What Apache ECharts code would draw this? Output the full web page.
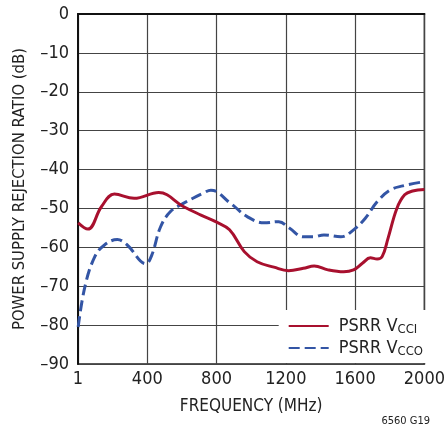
<!DOCTYPE html>
<html><head><meta charset="utf-8">
<script src="https://cdn.jsdelivr.net/npm/echarts@6/dist/echarts.min.js"></script>
<style>html,body{margin:0;padding:0;background:#fff}#c{width:448px;height:432px}</style>
</head><body><div id="c"></div>
<script>
const freqVcci = [1,57,136,210,324,466,608,710,795,875,960,1034,1131,1216,1301,1364,1443,1534,1591,1642,1688,1727,1756,1790,1841,1886,1932,2000];
const psrrVcci = [-53.7,-55.3,-49.5,-46.3,-47.4,-45.9,-49.5,-51.7,-53.4,-55.5,-61.1,-63.7,-65.1,-66,-65.4,-64.8,-65.8,-66.3,-65.8,-64.1,-62.7,-63,-62.4,-57.7,-50,-46.5,-45.5,-45.1];
const freqVcco = [1,40,97,153,227,284,392,426,477,534,608,722,767,881,977,1074,1159,1222,1301,1358,1420,1517,1591,1659,1727,1801,1875,2000];
const psrrVcco = [-80.5,-70.1,-62.4,-59.4,-58,-59.4,-64.2,-62,-54.7,-50.8,-48.7,-46.1,-45.3,-48.7,-52.1,-53.7,-53.4,-55.1,-57.3,-57.3,-56.8,-57.3,-55.5,-52.5,-48.3,-45.3,-44.2,-43.1];
const xTicks = ['1','400','800','1200','1600','2000'];
const seriesNames = ['PSRR VCCI','PSRR VCCO'];
const subs = {'PSRR VCCI':'CCI','PSRR VCCO':'CCO'};

const FONT = '"Liberation Sans Narrow","DejaVu Sans Condensed",sans-serif';
const chart = echarts.init(document.getElementById('c'));
const zip = (a,b)=>a.map((v,i)=>[v,b[i]]);
chart.setOption({
  animation:false,
  grid:{left:78,right:18,top:14,bottom:68,show:true,borderColor:'#222',borderWidth:1.5},
  xAxis:{type:'value',min:0,max:2000,interval:400,
    axisLine:{lineStyle:{color:'#111',width:2}},axisTick:{show:false},
    axisLabel:{margin:6,color:'#222',fontSize:18,fontFamily:FONT,
      formatter:v=>xTicks[Math.round(v/400)]},
    splitLine:{show:true,lineStyle:{color:'#444',width:1.2}},
    name:'FREQUENCY (MHz)',nameLocation:'middle',nameGap:34,
    nameTextStyle:{fontSize:17,color:'#222',fontFamily:FONT}},
  yAxis:{type:'value',min:-90,max:0,interval:10,
    axisLine:{show:true,lineStyle:{color:'#111',width:2}},axisTick:{show:false},
    axisLabel:{margin:9,color:'#222',fontSize:18,fontFamily:FONT,
      formatter:v=>String(v).replace('-','\u2013')},
    splitLine:{show:true,lineStyle:{color:'#444',width:1.2}},
    name:'POWER SUPPLY REJECTION RATIO (dB)',nameLocation:'middle',nameGap:50,
    nameTextStyle:{fontSize:16.5,color:'#222',fontFamily:FONT}},
  legend:{orient:'vertical',right:19,bottom:69,backgroundColor:'#fff',
    padding:[7,6,5,9],itemGap:3,itemWidth:40,itemHeight:18,
    itemStyle:{color:'rgba(0,0,0,0)',borderColor:'rgba(0,0,0,0)',borderWidth:0,opacity:0},
    data:seriesNames,
    formatter:n=>'{a|PSRR V}{s|'+subs[n]+'}',
    textStyle:{color:'#222',fontFamily:FONT,padding:[0,0,0,5],
      rich:{a:{fontSize:18,fontFamily:FONT,color:'#222',lineHeight:20},
            s:{fontSize:13,fontFamily:FONT,color:'#222',verticalAlign:'bottom',lineHeight:13,padding:[5,0,0,0]}}}},
  graphic:[{type:'text',right:18,bottom:5,style:{text:'6560 G19',fontSize:11,fontFamily:FONT,fill:'#222'}}],
  series:[
    {name:seriesNames[0],type:'line',smooth:0.4,symbol:'none',data:zip(freqVcci,psrrVcci),
     lineStyle:{color:'#A8102E',width:3},itemStyle:{color:'#A8102E'},z:3},
    {name:seriesNames[1],type:'line',smooth:0.4,symbol:'none',data:zip(freqVcco,psrrVcco),
     lineStyle:{color:'#3355A5',width:3,type:[11,5]},itemStyle:{color:'#3355A5'},z:2}
  ]
});
</script></body></html>
